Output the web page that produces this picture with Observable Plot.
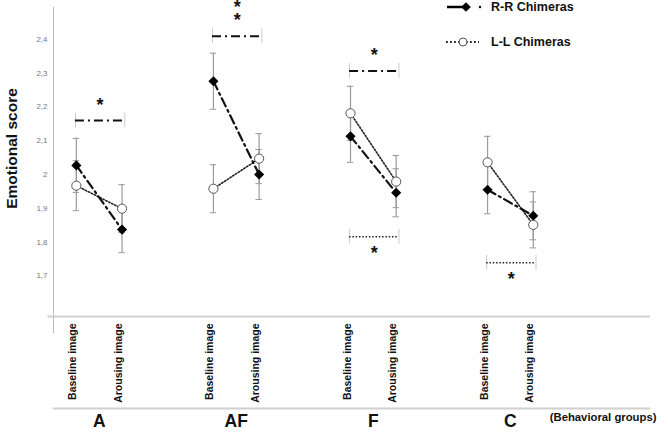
<!DOCTYPE html>
<html><head><meta charset="utf-8">
<script src="https://cdn.jsdelivr.net/npm/d3@7"></script>
<script src="https://cdn.jsdelivr.net/npm/@observablehq/plot@0.6"></script>
<style>
body{margin:0;background:#fff;font-family:"Liberation Sans",Arial,sans-serif;}
#wrap{position:relative;width:668px;height:434px;overflow:hidden;}
#legend{position:absolute;left:0;top:0;}
</style></head>
<body><div id="wrap"><div id="chart"></div><svg id="legend" width="668" height="60"></svg></div>
<script>
const groups = ["A","AF","F","C"];
const conditions = ["Baseline image","Arousing image"];
const rrMean = [2.027,1.837, 2.276,2.000, 2.113,1.946, 1.955,1.878];
const rrErr  = [0.080,0.068, 0.083,0.074, 0.077,0.071, 0.071,0.071];
const llMean = [1.967,1.899, 1.958,2.047, 2.181,1.979, 2.036,1.851];
const llErr  = [0.074,0.071, 0.071,0.074, 0.080,0.077, 0.077,0.068];
const yTicks = [1.7,1.8,1.9,2.0,2.1,2.2,2.3,2.4];
// significance brackets: group, series, level, number of stars, side
const sigGroup = ["A","AF","F","F","C"];
const sigSeries = ["R-R","R-R","R-R","L-L","L-L"];
const sigLevel = [2.160,2.409,2.306,1.816,1.739];
const sigStars = [1,2,1,1,1];
const sigSide = ["above","above","above","below","below"];

const font = "'Liberation Sans',Arial,sans-serif";
const xi = (g,c) => 3*groups.indexOf(g) + c + 0.5;

const rows = [];
groups.forEach((g,gi)=>conditions.forEach((c,ci)=>{
  const k = gi*2+ci;
  rows.push({series:"R-R",g,c,ci,x:xi(g,ci),m:rrMean[k],e:rrErr[k]});
  rows.push({series:"L-L",g,c,ci,x:xi(g,ci),m:llMean[k],e:llErr[k]});
}));
const rr = rows.filter(d=>d.series==="R-R");
const ll = rows.filter(d=>d.series==="L-L");
const labels = [];
groups.forEach(g=>conditions.forEach((c,ci)=>labels.push({x:xi(g,ci),c})));
const sig = sigGroup.map((g,i)=>({g,x1:xi(g,0)-0.02,x2:xi(g,1)+0.06,y:sigLevel[i],s:sigStars[i],side:sigSide[i],series:sigSeries[i],
  xm:(xi(g,0)+xi(g,1)+0.04)/2, stars:Array(sigStars[i]).fill("*").join("\n")}));
const caps = [];
sig.forEach(d=>{caps.push({x:d.x1,y:d.y});caps.push({x:d.x2,y:d.y});});

const dashDot = "9,4,2,4";
const dotted = "1.5,1.8";
const starOpts = {x:"xm",y:"y",text:"stars",fontSize:18,fontWeight:"bold",fill:"#111",lineHeight:0.72};

const chart = Plot.plot({
  width:668, height:434,
  marginLeft:53, marginRight:21, marginTop:5, marginBottom:118,
  style:{fontFamily:font, background:"#fff"},
  x:{domain:[0,13], axis:null},
  y:{domain:[1.58,2.5], axis:null},
  marks:[
    // axis structure
    Plot.ruleX([0],{y1:1.53,y2:2.494,stroke:"#bbb",strokeWidth:1}),
    Plot.ruleY([1.58],{x1:-0.12,x2:13.07,stroke:"#d0d0d0",strokeWidth:2}),
    Plot.ruleY([1.308],{x1:0,x2:13.07,stroke:"#d0d0d0",strokeWidth:2}),
    Plot.axisY({ticks:yTicks, tickSize:0, tickPadding:6, fontSize:8, color:"#777",
      tickFormat:d=>String(+d.toFixed(1)).replace(".",","), label:null}),
    Plot.text(["Emotional score"],{frameAnchor:"left", y:[2.077], dx:-41, rotate:-90, textAnchor:"middle",
      fontSize:15.5, fontWeight:"bold", fill:"#111"}),
    // error bars
    Plot.ruleX(rows,{x:"x",y1:d=>d.m-d.e,y2:d=>d.m+d.e,stroke:"#9a9a9a",strokeWidth:1.2}),
    Plot.ruleY(rows,{x1:d=>d.x-0.07,x2:d=>d.x+0.07,y:d=>d.m-d.e,stroke:"#9a9a9a",strokeWidth:1}),
    Plot.ruleY(rows,{x1:d=>d.x-0.07,x2:d=>d.x+0.07,y:d=>d.m+d.e,stroke:"#9a9a9a",strokeWidth:1}),
    // lines
    Plot.line(ll,{x:"x",y:"m",z:"g",stroke:"#222",strokeWidth:1.6,strokeDasharray:dotted}),
    Plot.line(rr,{x:"x",y:"m",z:"g",stroke:"#111",strokeWidth:2.2,strokeDasharray:dashDot}),
    // markers
    Plot.dot(rr,{x:"x",y:"m",symbol:"diamond2",r:3.6,fill:"#000",stroke:"#000"}),
    Plot.dot(ll,{x:"x",y:"m",r:4.6,fill:"#fff",stroke:"#555",strokeWidth:1}),
    // significance brackets
    Plot.ruleX(caps,{x:"x",y1:d=>d.y-0.022,y2:d=>d.y+0.022,stroke:"#ccc",strokeWidth:1}),
    Plot.ruleY(sig.filter(d=>d.series==="R-R"),{x1:"x1",x2:"x2",y:"y",stroke:"#111",strokeWidth:2,strokeDasharray:dashDot}),
    Plot.ruleY(sig.filter(d=>d.series==="L-L"),{x1:"x1",x2:"x2",y:"y",stroke:"#222",strokeWidth:1.4,strokeDasharray:dotted}),
    Plot.text(sig.filter(d=>d.side==="above"&&d.s===1),{...starOpts,dy:-14}),
    Plot.text(sig.filter(d=>d.side==="above"&&d.s===2),{...starOpts,dy:-20.5}),
    Plot.text(sig.filter(d=>d.side==="below"),{...starOpts,dy:18}),
    // x labels
    Plot.text(labels,{x:"x",text:"c",frameAnchor:"bottom",dy:7,rotate:-90,textAnchor:"end",
      fontSize:10.5,fontWeight:"bold",fill:"#111"}),
    Plot.text(groups,{x:g=>xi(g,0)+0.5,text:d=>d,frameAnchor:"bottom",dy:110,
      fontSize:17.5,fontWeight:"bold",fill:"#111"}),
    Plot.text(["(Behavioral groups)"],{x:[10.86],frameAnchor:"bottom",dy:104,textAnchor:"start",
      fontSize:11.3,fontWeight:"bold",fill:"#111"})
  ]
});
document.getElementById("chart").appendChild(chart);

// legend
const lg = d3.select("#legend");
const seriesNames = ["R-R Chimeras","L-L Chimeras"];
const ly = [7,42];
lg.append("line").attr("x1",447).attr("x2",466).attr("y1",ly[0]).attr("y2",ly[0]).attr("stroke","#000").attr("stroke-width",2.5);
lg.append("path").attr("d",d3.symbol(d3.symbolDiamond2,60)()).attr("transform",`translate(466,${ly[0]})`).attr("fill","#000");
lg.append("circle").attr("cx",480).attr("cy",ly[0]).attr("r",1.2).attr("fill","#000");
lg.append("line").attr("x1",446).attr("x2",479).attr("y1",ly[1]).attr("y2",ly[1]).attr("stroke","#222").attr("stroke-width",1.8).attr("stroke-dasharray","1.8,2.2");
lg.append("circle").attr("cx",463).attr("cy",ly[1]).attr("r",4).attr("fill","#fff").attr("stroke","#555");
seriesNames.forEach((s,i)=>lg.append("text").attr("x",491).attr("y",ly[i]).attr("dy","0.35em")
  .attr("font-family",font).attr("font-weight","bold").attr("font-size",12.5).attr("fill","#111").text(s));
</script></body></html>
